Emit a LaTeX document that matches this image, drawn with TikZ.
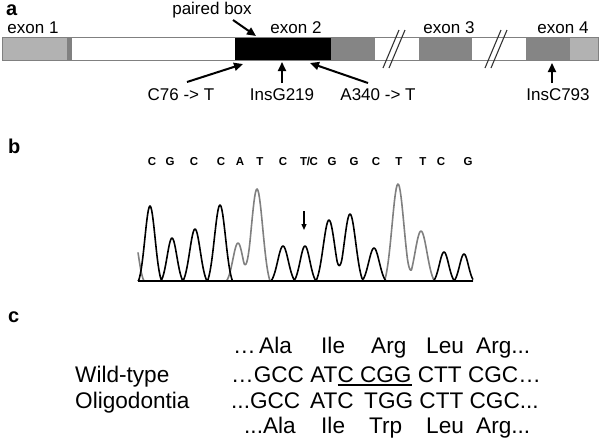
\documentclass[tikz,border=0pt]{standalone}
\usepackage{fontspec}
\setmainfont{Liberation Sans}
\usetikzlibrary{arrows.meta}
\definecolor{lightg}{gray}{0.70}
\definecolor{stripg}{gray}{0.50}
\definecolor{exg}{gray}{0.52}
\definecolor{traceg}{gray}{0.50}
\newcommand\myul[1]{\setbox0=\hbox{#1}\rlap{\rule[-3.5pt]{\wd0}{1.3pt}}\box0\relax}
\begin{document}
\begin{tikzpicture}[x=1pt,y=-1pt,
  lbl/.style={inner sep=0,outer sep=0,anchor=base,font=\fontsize{17}{20}\selectfont},
  panel/.style={inner sep=0,anchor=base west,font=\fontsize{20}{24}\selectfont\bfseries},
  seq/.style={inner sep=0,anchor=base west,font=\fontsize{22.6}{26}\selectfont},
  nuc/.style={inner sep=0,anchor=base,font=\fontsize{11.5}{13}\selectfont\bfseries},
  mut/.style={line width=2pt,-{Triangle[length=9pt,width=8pt]}},
  slash/.style={line width=1.1pt,black!80},
  trace/.style={line width=1.6pt,line join=round},
  declare function={
    p(\x,\c,\h,\w)=\h*max(0,(exp(max(-16,-((\x-\c)*1.6/\w)^2))-0.0773)/0.9227);
    blk(\x)=p(\x,150,75,11.5)+p(\x,172,43,11)+p(\x,195,52,12)+p(\x,220,76,12.5)
      +p(\x,283,35,12)+p(\x,305,35,11)+p(\x,329,61,13)+p(\x,350,67,13)
      +p(\x,374,33,12)+p(\x,444,29,10.5)+p(\x,464,27,10);
    gry(\x)=p(\x,134,45,10)+p(\x,238,38,11.5)+p(\x,257,92,13)+p(\x,398,97,13.5)+p(\x,421,50,13.5);
  }
]
\useasboundingbox (0,0) rectangle (600,440);

% ---------- panel a ----------
\node[panel] (pa) at (6,15) {a};
\fill[lightg] (2,37) rectangle (67,60);
\fill[stripg] (67,37) rectangle (72,60);
\fill[black] (235,37) rectangle (331,60);
\fill[exg] (331,37) rectangle (375,60);
\fill[exg] (419,37) rectangle (472,60);
\fill[exg] (526,37) rectangle (570,60);
\fill[lightg] (570,37) rectangle (598,60);
\draw[gray,line width=0.8pt] (2,37) rectangle (598,60);

\draw[slash] (399,30) -- (383,68);
\draw[slash] (405,30) -- (389,68);
\draw[slash] (501,30) -- (485,68);
\draw[slash] (507,30) -- (491,68);

\node[lbl] (e1) at (33,33) {exon 1};
\node[lbl] (e2) at (296,33) {exon 2};
\node[lbl] (e3) at (449,33) {exon 3};
\node[lbl] (e4) at (563,33) {exon 4};
\node[lbl] (pb) at (212,14) {paired box};

\node[lbl] (m1) at (181,100) {C76 -> T};
\node[lbl] (m2) at (282,100) {InsG219};
\node[lbl] (m3) at (378,100) {A340 -> T};
\node[lbl] (m4) at (558,100) {InsC793};

\coordinate (pbs) at (233,20);  \coordinate (pbe) at (256,36);
\coordinate (m1s) at (187,82);  \coordinate (m1e) at (243,64);
\coordinate (m2s) at (282,83);  \coordinate (m2e) at (282,62);
\coordinate (m3s) at (368,83);  \coordinate (m3e) at (310,63);
\coordinate (m4s) at (552,83);  \coordinate (m4e) at (552,63);
\draw[mut] (pbs) -- (pbe);
\draw[mut] (m1s) -- (m1e);
\draw[mut] (m2s) -- (m2e);
\draw[mut] (m3s) -- (m3e);
\draw[mut] (m4s) -- (m4e);

% ---------- panel b ----------
\node[panel] (pbl) at (8,153) {b};
\foreach \xx/\t [count=\i] in {152/C,170/G,194/C,221/C,240/A,260/T,283/C,309/{T\kern-0.3pt/\kern-0.3pt C},332/G,354/G,376/C,399/T,423/T,441/C,468/G}
  \node[nuc] (n\i) at (\xx,165) {\t};

\draw[trace,traceg] plot[domain=138:473,samples=420] (\x,{281-gry(\x)});
\draw[trace,black] plot[domain=138:473,samples=420] (\x,{281-blk(\x)});
\coordinate (bl0) at (138,281); \coordinate (bl1) at (473,281);
\draw[line width=1.3pt] (bl0) -- (bl1);
\coordinate (ars) at (304,211); \coordinate (are) at (304,230);
\draw[line width=1.3pt,-{Triangle[length=6pt,width=5pt]}] (ars) -- (are);

% ---------- panel c ----------
\node[panel] (pc) at (8,322) {c};
\node[seq] (r1a) at (233,353) {…};
\node[seq] (r1a2) at (259,353) {Ala};
\node[seq] (r1b) at (321,353) {Ile};
\node[seq] (r1c) at (371,353) {Arg};
\node[seq] (r1d) at (426,353) {Leu};
\node[seq] (r1e) at (476,353) {Arg...};

\node[seq] (wt) at (75,382) {Wild-type};
\node[seq] (r2) at (231,382) {…GCC AT\myul{C CGG} CTT CGC…};

\node[seq] (ol) at (75,408) {Oligodontia};
\node[seq] (r3a) at (231,408) {...GCC};
\node[seq] (r3b) at (310,408) {ATC};
\node[seq] (r3c) at (364,408) {TGG CTT CGC...};

\node[seq] (r4a) at (244,433) {...Ala};
\node[seq] (r4b) at (321,433) {Ile};
\node[seq] (r4c) at (369,433) {Trp};
\node[seq] (r4d) at (426,433) {Leu};
\node[seq] (r4e) at (476,433) {Arg...};
\end{tikzpicture}
\end{document}
